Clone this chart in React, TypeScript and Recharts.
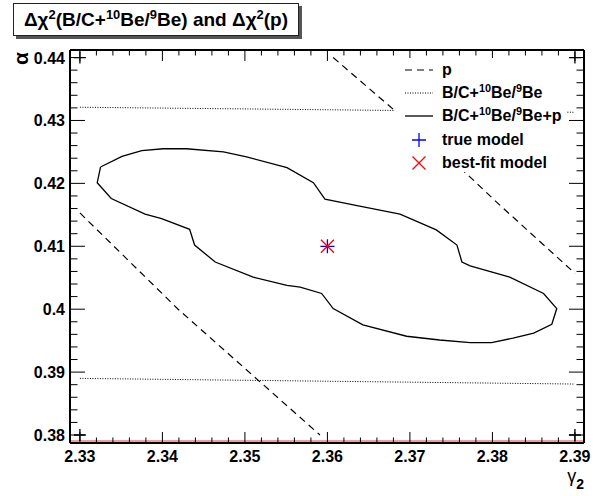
import {
  ComposedChart,
  Line,
  Scatter,
  XAxis,
  YAxis,
  ReferenceLine,
} from 'recharts';

const FONT = "'Liberation Sans', Arial, Helvetica, sans-serif";

// frame of the plot, in pixels
const WIDTH = 605;
const HEIGHT = 496;
const PLOT_LEFT = 70;
const PLOT_RIGHT = 584;
const PLOT_TOP = 50;
const PLOT_BOTTOM = 443;

const X_DOMAIN = [2.3288, 2.3911];
const Y_DOMAIN = [0.37873, 0.4412];

const X_MAJOR = [2.33, 2.34, 2.35, 2.36, 2.37, 2.38, 2.39];
const Y_MAJOR = [0.38, 0.39, 0.4, 0.41, 0.42, 0.43, 0.44];

// contour of delta chi2 (p) - two branches
const P_LEFT = [
  { x: 2.33, y: 0.4153 },
  { x: 2.3419, y: 0.4 },
  { x: 2.3591, y: 0.38 },
];
const P_RIGHT = [
  { x: 2.3607, y: 0.44 },
  { x: 2.3684, y: 0.4313 },
  { x: 2.3769, y: 0.4215 },
  { x: 2.3806, y: 0.4169 },
  { x: 2.39, y: 0.4057 },
];

// contour of delta chi2 (B/C + 10Be/9Be) - two branches
const BC_TOP = [
  { x: 2.33, y: 0.4321 },
  { x: 2.39, y: 0.4313 },
];
const BC_BOTTOM = [
  { x: 2.33, y: 0.389 },
  { x: 2.39, y: 0.3881 },
];

// combined contour (closed)
const COMBINED = [
  { x: 2.3325, y: 0.4226 },
  { x: 2.3351, y: 0.4243 },
  { x: 2.3375, y: 0.4252 },
  { x: 2.3401, y: 0.4255 },
  { x: 2.3429, y: 0.4255 },
  { x: 2.3474, y: 0.425 },
  { x: 2.3502, y: 0.4242 },
  { x: 2.3551, y: 0.4225 },
  { x: 2.3583, y: 0.4201 },
  { x: 2.3597, y: 0.4175 },
  { x: 2.3639, y: 0.4164 },
  { x: 2.3688, y: 0.4151 },
  { x: 2.3732, y: 0.4126 },
  { x: 2.3757, y: 0.4102 },
  { x: 2.3763, y: 0.4075 },
  { x: 2.3773, y: 0.4069 },
  { x: 2.3821, y: 0.4051 },
  { x: 2.3862, y: 0.4025 },
  { x: 2.3878, y: 0.4001 },
  { x: 2.3872, y: 0.3976 },
  { x: 2.385, y: 0.3962 },
  { x: 2.3825, y: 0.3954 },
  { x: 2.3799, y: 0.3947 },
  { x: 2.3773, y: 0.3947 },
  { x: 2.3736, y: 0.3951 },
  { x: 2.3696, y: 0.3957 },
  { x: 2.3643, y: 0.3975 },
  { x: 2.3607, y: 0.4001 },
  { x: 2.3593, y: 0.4025 },
  { x: 2.3567, y: 0.4035 },
  { x: 2.3551, y: 0.4038 },
  { x: 2.351, y: 0.4051 },
  { x: 2.3464, y: 0.4075 },
  { x: 2.3439, y: 0.4102 },
  { x: 2.3433, y: 0.4127 },
  { x: 2.3399, y: 0.4144 },
  { x: 2.3379, y: 0.4151 },
  { x: 2.3338, y: 0.4176 },
  { x: 2.3321, y: 0.4201 },
  { x: 2.3325, y: 0.4226 },
];

const TRUE_MODEL = [{ x: 2.36, y: 0.41 }];
const BEST_FIT = [{ x: 2.36, y: 0.41 }];
const CORNERS = [
  { x: 2.33, y: 0.44 },
  { x: 2.33, y: 0.38 },
  { x: 2.39, y: 0.38 },
  { x: 2.39, y: 0.44 },
];
const RED_LEVEL = 0.37905;

// 5 minor divisions between major ticks
function withMinor(major: number[]) {
  const out: number[] = [];
  for (let i = 0; i < major.length - 1; i++) {
    for (let k = 0; k < 5; k++) {
      out.push(
        Math.round((major[i] + ((major[i + 1] - major[i]) * k) / 5) * 1e5) / 1e5,
      );
    }
  }
  out.push(major[major.length - 1]);
  return out;
}

const X_TICKS = withMinor(X_MAJOR);
const Y_TICKS = withMinor(Y_MAJOR);

const isMajor = (v: number, major: number[]) =>
  major.some((m) => Math.abs(m - v) < 1e-6);

const labelStyle = {
  fontFamily: FONT,
  fontWeight: 700,
  fontSize: 16,
  fill: '#000',
};

function BottomTick(props: any) {
  const { x, payload } = props;
  const major = isMajor(payload.value, X_MAJOR);
  return (
    <g>
      <line
        x1={x}
        x2={x}
        y1={PLOT_BOTTOM}
        y2={PLOT_BOTTOM - (major ? 11 : 5.5)}
        stroke="#000"
        strokeWidth={1}
      />
      {major && (
        <text x={x} y={PLOT_BOTTOM + 19} textAnchor="middle" {...labelStyle}>
          {String(payload.value)}
        </text>
      )}
    </g>
  );
}

function TopTick(props: any) {
  const { x, payload } = props;
  const major = isMajor(payload.value, X_MAJOR);
  return (
    <line
      x1={x}
      x2={x}
      y1={PLOT_TOP}
      y2={PLOT_TOP + (major ? 11 : 5.5)}
      stroke="#000"
      strokeWidth={1}
    />
  );
}

function LeftTick(props: any) {
  const { y, payload } = props;
  const major = isMajor(payload.value, Y_MAJOR);
  return (
    <g>
      <line
        x1={PLOT_LEFT}
        x2={PLOT_LEFT + (major ? 15 : 7.5)}
        y1={y}
        y2={y}
        stroke="#000"
        strokeWidth={1}
      />
      {major && (
        <text x={PLOT_LEFT - 5} y={y + 6} textAnchor="end" {...labelStyle}>
          {String(payload.value)}
        </text>
      )}
    </g>
  );
}

function RightTick(props: any) {
  const { y, payload } = props;
  const major = isMajor(payload.value, Y_MAJOR);
  return (
    <line
      x1={PLOT_RIGHT}
      x2={PLOT_RIGHT - (major ? 15 : 7.5)}
      y1={y}
      y2={y}
      stroke="#000"
      strokeWidth={1}
    />
  );
}

const plusPath = (cx: number, cy: number, r: number) =>
  `M${cx - r},${cy}H${cx + r}M${cx},${cy - r}V${cy + r}`;
const crossPath = (cx: number, cy: number, r: number) =>
  `M${cx - r},${cy - r}L${cx + r},${cy + r}M${cx - r},${cy + r}L${cx + r},${cy - r}`;

const Sup = ({ children }: { children: string }) => (
  <span style={{ fontSize: '0.68em', position: 'relative', top: '-0.55em' }}>
    {children}
  </span>
);

const LEGEND_ROWS = [70, 93, 116, 140, 163];
const SAMPLE_X1 = 405;
const SAMPLE_X2 = 433;
const LEGEND_TEXT_X = 442;

function LegendBox() {
  const labels = [
    <>p</>,
    <>
      B/C+<Sup>10</Sup>Be/<Sup>9</Sup>Be
    </>,
    <>
      B/C+<Sup>10</Sup>Be/<Sup>9</Sup>Be+p
    </>,
    <>true model</>,
    <>best-fit model</>,
  ];
  const mx = (SAMPLE_X1 + SAMPLE_X2) / 2;
  return (
    <>
      <div
        style={{
          position: 'absolute',
          left: 395,
          top: 58,
          width: 171,
          height: 114,
          background: '#fff',
        }}
      />
      <svg
        width={WIDTH}
        height={HEIGHT}
        style={{ position: 'absolute', left: 0, top: 0, pointerEvents: 'none' }}
      >
        <line
          x1={SAMPLE_X1}
          x2={SAMPLE_X2}
          y1={LEGEND_ROWS[0]}
          y2={LEGEND_ROWS[0]}
          stroke="#000"
          strokeWidth={1.2}
          strokeDasharray="7 5"
        />
        <line
          x1={SAMPLE_X1}
          x2={SAMPLE_X2}
          y1={LEGEND_ROWS[1]}
          y2={LEGEND_ROWS[1]}
          stroke="#000"
          strokeWidth={1}
          strokeDasharray="1 1.5"
        />
        <line
          x1={SAMPLE_X1}
          x2={SAMPLE_X2}
          y1={LEGEND_ROWS[2]}
          y2={LEGEND_ROWS[2]}
          stroke="#000"
          strokeWidth={1.3}
        />
        <path d={plusPath(mx, LEGEND_ROWS[3], 7)} stroke="#0000ff" strokeWidth={1.3} />
        <path d={crossPath(mx, LEGEND_ROWS[4], 6.5)} stroke="#ff0000" strokeWidth={1.3} />
      </svg>
      {labels.map((label, i) => (
        <div
          key={i}
          style={{
            position: 'absolute',
            left: LEGEND_TEXT_X,
            top: LEGEND_ROWS[i] - 9,
            lineHeight: '18px',
            fontFamily: FONT,
            fontWeight: 700,
            fontSize: 16,
            whiteSpace: 'nowrap',
          }}
        >
          {label}
        </div>
      ))}
    </>
  );
}

export default function App() {
  return (
    <div
      style={{
        position: 'fixed',
        left: 0,
        top: 0,
        width: WIDTH,
        height: HEIGHT,
        background: '#fff',
      }}
    >
      <ComposedChart
        width={WIDTH}
        height={HEIGHT}
        margin={{ top: 0, right: 0, bottom: 0, left: 0 }}
      >
        <XAxis
          xAxisId="bottom"
          dataKey="x"
          type="number"
          orientation="bottom"
          domain={X_DOMAIN}
          allowDataOverflow
          ticks={X_TICKS}
          interval={0}
          height={HEIGHT - PLOT_BOTTOM}
          tickSize={0}
          tickMargin={0}
          tickLine={false}
          axisLine={{ stroke: '#000', strokeWidth: 2 }}
          tick={(p: any) => <BottomTick {...p} />}
        />
        <XAxis
          xAxisId="top"
          dataKey="x"
          type="number"
          orientation="top"
          domain={X_DOMAIN}
          allowDataOverflow
          ticks={X_TICKS}
          interval={0}
          height={PLOT_TOP}
          tickSize={0}
          tickMargin={0}
          tickLine={false}
          axisLine={{ stroke: '#000', strokeWidth: 2 }}
          tick={(p: any) => <TopTick {...p} />}
        />
        <YAxis
          yAxisId="left"
          dataKey="y"
          type="number"
          orientation="left"
          domain={Y_DOMAIN}
          allowDataOverflow
          ticks={Y_TICKS}
          interval={0}
          width={PLOT_LEFT}
          tickSize={0}
          tickMargin={0}
          tickLine={false}
          axisLine={{ stroke: '#000', strokeWidth: 2 }}
          tick={(p: any) => <LeftTick {...p} />}
        />
        <YAxis
          yAxisId="right"
          dataKey="y"
          type="number"
          orientation="right"
          domain={Y_DOMAIN}
          allowDataOverflow
          ticks={Y_TICKS}
          interval={0}
          width={WIDTH - PLOT_RIGHT}
          tickSize={0}
          tickMargin={0}
          tickLine={false}
          axisLine={{ stroke: '#000', strokeWidth: 2 }}
          tick={(p: any) => <RightTick {...p} />}
        />

        <ReferenceLine
          xAxisId="bottom"
          yAxisId="left"
          y={RED_LEVEL}
          stroke="#e04040"
          strokeWidth={1}
        />

        {[BC_TOP, BC_BOTTOM].map((d, i) => (
          <Line
            key={`bc${i}`}
            xAxisId="bottom"
            yAxisId="left"
            data={d}
            dataKey="y"
            type="linear"
            dot={false}
            stroke="#000"
            strokeWidth={1}
            strokeDasharray="1 1.5"
            isAnimationActive={false}
          />
        ))}
        {[P_LEFT, P_RIGHT].map((d, i) => (
          <Line
            key={`p${i}`}
            xAxisId="bottom"
            yAxisId="left"
            data={d}
            dataKey="y"
            type="linear"
            dot={false}
            stroke="#000"
            strokeWidth={1.2}
            strokeDasharray="7 5"
            isAnimationActive={false}
          />
        ))}
        <Line
          xAxisId="bottom"
          yAxisId="left"
          data={COMBINED}
          dataKey="y"
          type="linear"
          dot={false}
          stroke="#000"
          strokeWidth={1.3}
          isAnimationActive={false}
        />

        <Scatter
          xAxisId="bottom"
          yAxisId="left"
          data={CORNERS}
          dataKey="y"
          isAnimationActive={false}
          shape={(p: any) => (
            <path d={plusPath(p.cx, p.cy, 6)} stroke="#000" strokeWidth={1.3} />
          )}
        />
        <Scatter
          xAxisId="bottom"
          yAxisId="left"
          data={TRUE_MODEL}
          dataKey="y"
          isAnimationActive={false}
          shape={(p: any) => (
            <path d={plusPath(p.cx, p.cy, 7)} stroke="#0000ff" strokeWidth={1.3} />
          )}
        />
        <Scatter
          xAxisId="bottom"
          yAxisId="left"
          data={BEST_FIT}
          dataKey="y"
          isAnimationActive={false}
          shape={(p: any) => (
            <path d={crossPath(p.cx, p.cy, 6.5)} stroke="#ff0000" strokeWidth={1.3} />
          )}
        />

        {/* axis titles */}
        <text
          x={28}
          y={52}
          transform="rotate(-90 28 52)"
          textAnchor="end"
          fontFamily={FONT}
          fontWeight={700}
          fontSize={21}
        >
          α
        </text>
        <text
          x={PLOT_RIGHT}
          y={482}
          textAnchor="end"
          fontFamily={FONT}
          fontSize={18}
        >
          γ
          <tspan fontSize={14} fontWeight={700} dy={7}>
            2
          </tspan>
        </text>
      </ComposedChart>

      <LegendBox />

      <div
        style={{
          position: 'absolute',
          left: 13,
          top: 3,
          width: 284,
          height: 31,
          border: '1px solid #222',
          boxShadow: '3px 3px 0 #555',
          background: '#fff',
          fontFamily: FONT,
          fontWeight: 700,
          fontSize: 19,
          lineHeight: '31px',
          textAlign: 'center',
          whiteSpace: 'nowrap',
        }}
      >
        Δχ<Sup>2</Sup>(B/C+<Sup>10</Sup>Be/<Sup>9</Sup>Be) and Δχ<Sup>2</Sup>(p)
      </div>
    </div>
  );
}
